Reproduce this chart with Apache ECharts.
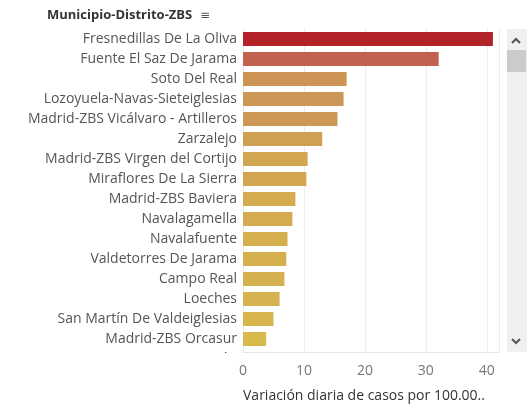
<!DOCTYPE html>
<html><head><meta charset="utf-8">
<script src="https://cdn.jsdelivr.net/npm/echarts@6/dist/echarts.min.js"></script>
<style>html,body{margin:0;padding:0;background:#fff}#c{width:532px;height:418px}</style>
</head><body><div id="c"></div>
<script>
const categories = ["Fresnedillas De La Oliva","Fuente El Saz De Jarama","Soto Del Real","Lozoyuela-Navas-Sieteiglesias","Madrid-ZBS Vicálvaro - Artilleros","Zarzalejo","Madrid-ZBS Virgen del Cortijo","Miraflores De La Sierra","Madrid-ZBS Baviera","Navalagamella","Navalafuente","Valdetorres De Jarama","Campo Real","Loeches","San Martín De Valdeiglesias","Madrid-ZBS Orcasur","Nuevo Baztán"];
const values = [41.0,32.1,17.0,16.5,15.5,13.0,10.6,10.4,8.6,8.1,7.3,7.1,6.8,6.0,5.0,3.8,3.5];
const xTicks = [0,10,20,30,40];
const axisTitle = 'Variación diaria de casos por 100.00..';
const chart = echarts.init(document.getElementById('c'));
chart.setOption({
  animation:false,
  textStyle:{fontFamily:'Open Sans'},
  grid:{left:243,top:29,width:256,height:340,containLabel:false,outerBoundsMode:'none'},
  visualMap:{show:false,type:'continuous',min:0,max:41,dimension:0,seriesIndex:0,
    inRange:{color:['#dcc54a','#d4ac4f','#cc9656','#c9865a','#c0604e','#b22226']}},
  xAxis:[
    {type:'value',min:0,max:42,interval:10,offset:-17,z:10,position:'bottom',
    axisLine:{show:true,lineStyle:{color:'#e6e6e6'}},axisTick:{show:false},
    axisLabel:{color:'#777',fontSize:14,margin:12,showMaxLabel:false,
      formatter:v=>xTicks.includes(v)?String(v):''},
    splitLine:{show:false}},
    {type:'value',min:0,max:42,interval:10,position:'top',z:0,
    axisLine:{show:false},axisTick:{show:false},axisLabel:{show:false},
    splitLine:{lineStyle:{color:'#ececec'}}}
  ],
  yAxis:{type:'category',data:categories,inverse:true,
    axisLine:{show:true,lineStyle:{color:'#ececec'}},axisTick:{show:false},
    axisLabel:{color:'#555',fontSize:14,margin:6}},
  series:[{type:'bar',data:values,barWidth:14,z:2}],
  graphic:[
    {type:'rect',z:5,shape:{x:0,y:353,width:532,height:65},style:{fill:'#fff'}},
    {type:'text',left:243,top:389,z:20,style:{text:axisTitle,fill:'#333',font:'14px Open Sans'}},
    {type:'text',left:47,top:9,z:20,style:{text:'Municipio-Distrito-ZBS',fill:'#333',font:'bold 13px Open Sans'}},
    {type:'text',left:200,top:10,z:20,style:{text:'≡',fill:'#555',font:'12px DejaVu Sans'}},
    {type:'rect',z:20,shape:{x:507,y:29,width:20,height:323},style:{fill:'#f0f0f0'}},
    {type:'rect',z:21,shape:{x:507,y:50,width:19,height:22},style:{fill:'#cbcbcb'}},
    {type:'polyline',z:21,shape:{points:[[512,43],[516,39],[520,43]]},style:{stroke:'#555',lineWidth:2,fill:null}},
    {type:'polyline',z:21,shape:{points:[[512,339],[516,343],[520,339]]},style:{stroke:'#555',lineWidth:2,fill:null}}
  ]
});
</script></body></html>
